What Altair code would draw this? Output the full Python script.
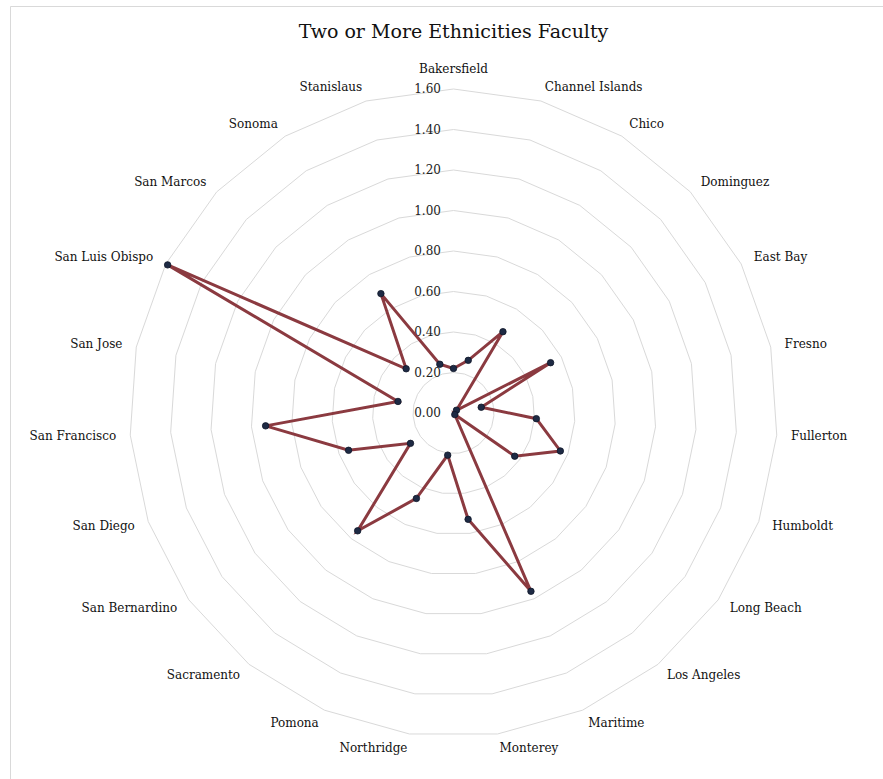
import altair as alt
import pandas as pd

campuses = ["Bakersfield", "Channel Islands", "Chico", "Dominguez", "East Bay", "Fresno",
            "Fullerton", "Humboldt", "Long Beach", "Los Angeles", "Maritime", "Monterey",
            "Northridge", "Pomona", "Sacramento", "San Bernardino", "San Diego",
            "San Francisco", "San Jose", "San Luis Obispo", "San Marcos", "Sonoma", "Stanislaus"]
values = [0.22, 0.27, 0.47, 0.02, 0.54, 0.14, 0.41, 0.56, 0.37, 0.01, 0.96, 0.53,
          0.21, 0.46, 0.75, 0.26, 0.55, 0.93, 0.28, 1.59, 0.32, 0.69, 0.25]
ring_levels = [0.2, 0.4, 0.6, 0.8, 1.0, 1.2, 1.4, 1.6]
tick_values = [0.0, 0.2, 0.4, 0.6, 0.8, 1.0, 1.2, 1.4, 1.6]
title_text = "Two or More Ethnicities Faculty"

N = len(campuses)
W, H = 883, 779
CX, CY = 453.5, 413.0
PX = 202.5  # pixels per unit
FONT = "DejaVu Serif"

xscale = alt.Scale(domain=[-CX / PX, (W - CX) / PX], range=[0, W], nice=False, zero=False)
yscale = alt.Scale(domain=[-(H - CY) / PX, CY / PX], range=[H, 0], nice=False, zero=False)

# series (closed polygon)
series_df = pd.DataFrame({
    "campus": campuses + [campuses[0]],
    "value": values + [values[0]],
    "idx": list(range(N)) + [N],
})
series_base = alt.Chart(series_df).transform_calculate(
    ang=f"2*PI*datum.idx/{N}"
).transform_calculate(
    px="datum.value*sin(datum.ang)", py="datum.value*cos(datum.ang)"
)
series_line = series_base.mark_line(color="#8B3A40", strokeWidth=3, clip=False).encode(
    x=alt.X("px:Q", scale=xscale, axis=None),
    y=alt.Y("py:Q", scale=yscale, axis=None),
    order="idx:Q",
)
series_pts = series_base.transform_filter(f"datum.idx < {N}").mark_point(
    filled=True, fill="#1E2A44", stroke="#0f1628", strokeWidth=0.8, size=42, opacity=1
).encode(
    x=alt.X("px:Q", scale=xscale, axis=None),
    y=alt.Y("py:Q", scale=yscale, axis=None),
)

# grid rings
ring_rows = []
for lv in ring_levels:
    for i in range(N + 1):
        ring_rows.append({"level": lv, "idx": i})
ring_df = pd.DataFrame(ring_rows)
rings = alt.Chart(ring_df).transform_calculate(
    ang=f"2*PI*datum.idx/{N}"
).transform_calculate(
    px="datum.level*sin(datum.ang)", py="datum.level*cos(datum.ang)"
).mark_line(color="#D9D9D9", strokeWidth=1).encode(
    x=alt.X("px:Q", scale=xscale, axis=None),
    y=alt.Y("py:Q", scale=yscale, axis=None),
    detail="level:N",
    order="idx:Q",
)

# radial tick labels
tick_df = pd.DataFrame({"v": tick_values})
ticks = alt.Chart(tick_df).transform_calculate(
    px="-0.062", lbl="format(datum.v, '.2f')"
).mark_text(align="right", baseline="middle", font=FONT, fontSize=12, color="#222222").encode(
    x=alt.X("px:Q", scale=xscale, axis=None),
    y=alt.Y("v:Q", scale=yscale, axis=None),
    text="lbl:N",
)

# category labels
lab_df = pd.DataFrame({"campus": campuses, "idx": list(range(N))})
lab_base = alt.Chart(lab_df).transform_calculate(
    ang=f"2*PI*datum.idx/{N}",
).transform_calculate(
    rr="datum.idx == 0 ? 1.70 : 1.67",
).transform_calculate(
    px="datum.rr*sin(datum.ang)", py="datum.rr*cos(datum.ang)"
)
def lab_layer(filt, align):
    return lab_base.transform_filter(filt).mark_text(
        align=align, baseline="middle", font=FONT, fontSize=12, color="#111111"
    ).encode(
        x=alt.X("px:Q", scale=xscale, axis=None),
        y=alt.Y("py:Q", scale=yscale, axis=None),
        text="campus:N",
    )
labels_c = lab_layer("datum.idx == 0", "center")
labels_l = lab_layer(f"datum.idx > 0 && datum.idx <= {N//2}", "left")
labels_r = lab_layer(f"datum.idx > {N//2}", "right")

# title
title = alt.Chart(pd.DataFrame({"t": [title_text]})).mark_text(
    font=FONT, fontSize=19, color="#111111", align="center", baseline="middle"
).encode(x=alt.value(CX), y=alt.value(32), text="t:N")

# frame
frame_top = alt.Chart(pd.DataFrame({"a": [0]})).mark_rule(color="#D9D9D9", strokeWidth=1).encode(
    x=alt.value(10.5), x2=alt.value(W), y=alt.value(6.5))
frame_left = alt.Chart(pd.DataFrame({"a": [0]})).mark_rule(color="#D9D9D9", strokeWidth=1).encode(
    x=alt.value(10.5), y=alt.value(6.5), y2=alt.value(H))

chart = alt.layer(
    frame_top, frame_left, rings, ticks, series_line, series_pts,
    labels_c, labels_l, labels_r, title
).properties(
    width=W, height=H, autosize=alt.AutoSizeParams(type="none"), padding=0,
    background="white"
).configure_view(stroke=None)

chart.save("out.html", embed_options={"renderer": "svg", "actions": False})
